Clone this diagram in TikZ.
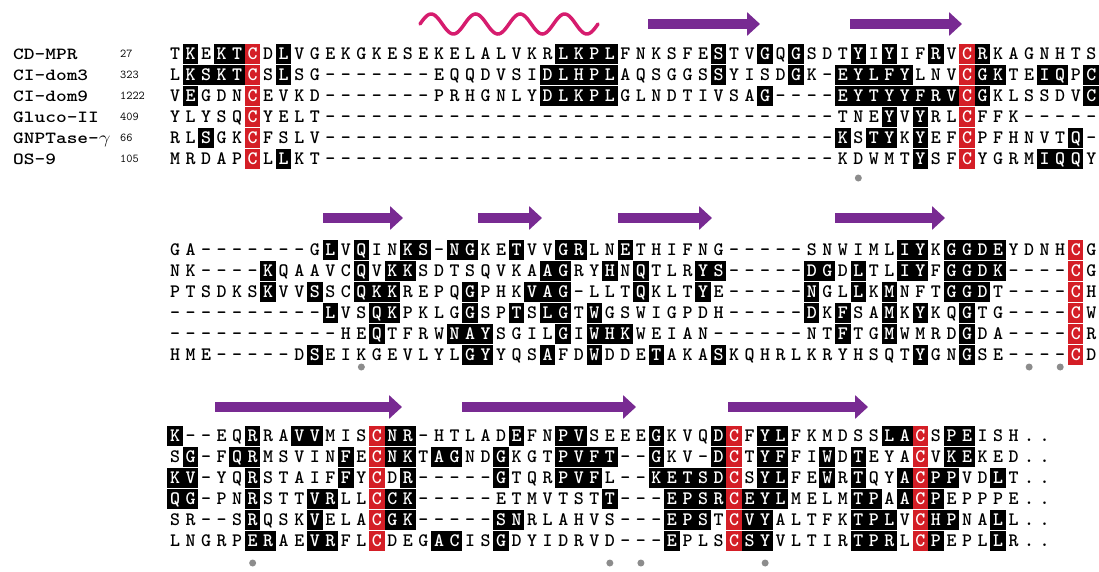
\documentclass[tikz,border=0pt]{standalone}
\usepackage{xstring}
\usetikzlibrary{arrows.meta}
\definecolor{MSAred}{RGB}{212,30,38}
\definecolor{MSApurple}{RGB}{120,42,146}
\definecolor{MSAhelix}{RGB}{214,28,110}
\newcommand{\seqfont}{\ttfamily\bfseries\fontsize{19}{19}\selectfont}
\newcommand{\namefont}{\ttfamily\bfseries\fontsize{17}{17}\selectfont}
\newcommand{\numfont}{\ttfamily\fontsize{12}{12}\selectfont}
\newcommand{\cellfill}{white}
\newcommand{\celltext}{black}
\tikzset{
  msa/res/.style={inner sep=0pt, font=\seqfont, text height=11pt, text depth=0pt,
    minimum width=15.6pt, minimum height=20.5pt, fill=\cellfill, text=\celltext},
  msa/name/.style={anchor=west, inner sep=0pt, font=\namefont, text height=10pt, text depth=0pt},
  msa/num/.style={anchor=west, inner sep=0pt, font=\numfont, text height=7pt, text depth=0pt},
  msa/strand/.style={draw=MSApurple, line width=10pt, -{Triangle[length=13pt,width=23pt]}},
  msa/helix/.style={draw=MSAhelix, line width=3.5pt, line cap=round},
  msa/dot/.style={circle, fill=black!45, inner sep=0pt, minimum size=7pt}
}
% x position of alignment column
\newcommand{\colx}[1]{175+(#1-1)*15.53}
% block, row, y, residues, identical columns, cysteine columns
\newcommand{\alnrow}[6]{%
  \StrLen{#4}[\seqlen]%
  \foreach \c in {1,...,\seqlen}{%
    \StrChar{#4}{\c}[\ch]%
    \IfSubStr{,#6,}{,\c,}{\def\cellfill{MSAred}\def\celltext{white}}%
      {\IfSubStr{,#5,}{,\c,}{\def\cellfill{black}\def\celltext{white}}%
        {\def\cellfill{white}\def\celltext{black}}}%
    \node[msa/res] (b#1r#2c\c) at ({\colx{\c}},#3) {\ch};}}
\newcommand{\strand}[3]{\draw[msa/strand] (#1,#3) -- (#2,#3);}
\newcommand{\seqname}[1]{\scalebox{1.2}[1]{#1}}

\begin{document}
\begin{tikzpicture}[x=1pt,y=-1pt]
  \path[use as bounding box, fill=white] (0,0) rectangle (1099,571);

  % block 1
  \node[msa/name] (nCD) at (13,54) {\seqname{CD-MPR}};
  \node[msa/name] (nCI3) at (13,75) {\seqname{CI-dom3}};
  \node[msa/name] (nCI9) at (13,96) {\seqname{CI-dom9}};
  \node[msa/name] (nGlu) at (13,117) {\seqname{Gluco-II}};
  \node[msa/name] (nGNP) at (13,138) {\seqname{GNPTase-$\gamma$}};
  \node[msa/name] (nOS) at (13,159) {\seqname{OS-9}};
  \node[msa/num] (sCD) at (120,54) {27};
  \node[msa/num] (sCI3) at (120,75) {323};
  \node[msa/num] (sCI9) at (120,96) {1222};
  \node[msa/num] (sGlu) at (120,117) {409};
  \node[msa/num] (sGNP) at (120,138) {66};
  \node[msa/num] (sOS) at (120,159) {105};

  \draw[msa/helix] plot[domain=0:178, samples=120, smooth] ({420+\x},{24-10*sin(8.09*\x)});
  \strand{648}{760}{24}
  \strand{850}{962}{24}

  \alnrow{1}{1}{54}{TKEKTCDLVGEKGKESEKELALVKRLKPLFNKSFESTVGQGSDTYIYIFRVCRKAGNHTS}{2,4,5,8,26,27,28,29,36,39,41,45,47,50,53}{6,52}
  \alnrow{1}{2}{75}{LKSKTCSLSG-------EQQDVSIDLHPLAQSGGSSYISDGK-EYLFYLNVCGKTEIQPC}{2,3,4,5,8,25,26,27,28,29,36,41,44,45,46,47,48,53,54,57,58,60}{6,52}
  \alnrow{1}{3}{96}{VEGDNCEVKD-------PRHGNLYDLKPLGLNDTIVSAG----EYTYYFRVCGKLSSDVC}{2,25,26,27,28,29,39,44,45,46,47,48,49,50,51,53,60}{6,52}
  \alnrow{1}{4}{117}{YLYSQCYELT---------------------------------TNEYVYRLCFFK-----}{47,49}{6,52}
  \alnrow{1}{5}{138}{RLSGKCFSLV---------------------------------KSTYKYEFCPFHNVTQ-}{3,44,46,47,49,59}{6,52}
  \alnrow{1}{6}{159}{MRDAPCLLKT---------------------------------KDWMTYSFCYGRMIQQY}{8,49,57,58,59}{6,52}
  \node[msa/dot] (d1a) at ({\colx{45}},178) {};

  % block 2
  \strand{323}{403}{218}
  \strand{478}{542}{218}
  \strand{618}{712}{218}
  \strand{835}{945}{218}

  \alnrow{2}{1}{250}{GA-------GLVQINKS-NGKETVVGRLNETHIFNG-----SNWIMLIYKGGDEYDNHCG}{11,13,16,17,19,20,23,26,27,30,48,49,51,52,53,54}{59}
  \alnrow{2}{2}{271}{NK----KQAAVCQVKKSDTSQVKAAGRYHNQTLRYS-----DGDLTLIYFGGDK----CG}{7,13,15,16,25,26,29,31,35,36,42,43,45,48,49,51,52,53,54}{59}
  \alnrow{2}{3}{292}{PTSDKSKVVSSCQKKREPQGPHKVAG-LLTQKLTYE-----NGLLKMNFTGGDT----CH}{7,10,13,14,15,20,24,25,26,31,35,42,45,47,51,52,53}{59}
  \alnrow{2}{4}{313}{----------LVSQKPKLGGSPTSLGTWGSWIGPDH-----DKFSAMKYKQGTG----CW}{11,14,15,20,23,25,26,28,42,44,47,49,52}{59}
  \alnrow{2}{5}{334}{-----------HEQTFRWNAYSGILGIWHKWEIAN------NTFTGMWMRDGDA----CR}{14,19,20,21,26,28,29,30,44,47,52}{59}
  \alnrow{2}{6}{355}{HME-----DSEIKGEVLYLGYYQSAFDWDDETAKASKQHRLKRYHSQTYGNGSE----CD}{10,20,21,25,28,32,36,49,52}{59}
  \node[msa/dot] (d2a) at ({\colx{13}},367) {};
  \node[msa/dot] (d2b) at ({\colx{56}},367) {};
  \node[msa/dot] (d2c) at ({\colx{58}},367) {};

  % block 3
  \strand{215}{402}{407}
  \strand{462}{636}{407}
  \strand{728}{868}{407}

  \alnrow{3}{1}{436}{K--EQRRAVVMISCNR-HTLADEFNPVSEEEGKVQDCFYLFKMDSSLACSPEISH..}{1,6,9,10,15,16,23,26,27,32,36,39,40,47,48,51,52}{14,37,49}
  \alnrow{3}{2}{457}{SG-FQRMSVINFECNKTAGNDGKGTPVFT--GKV-DCTYFFIWDTEYACVKEKED..}{2,5,6,12,15,16,18,19,22,26,27,28,29,32,36,39,40,43,45,51,52}{14,37,49}
  \alnrow{3}{3}{478}{KV-YQRSTAIFFYCDR-----GTQRPVFL--KETSDCSYLFEWRTQYACPPVDLT..}{1,2,6,12,16,22,26,27,28,32,33,34,35,36,39,40,43,45,48,50,51,54}{14,37,49}
  \alnrow{3}{4}{499}{QG-PNRSTTVRLLCCK-----ETMVTSTT---EPSRCEYLMELMTPAACPEPPPE..}{1,2,6,10,11,15,16,29,33,34,35,36,38,39,40,45,46,48,50}{14,37,49}
  \alnrow{3}{5}{520}{SR--SRQSKVELACGK-----SNRLAHVS---EPSTCVYALTFKTPLVCHPNALL..}{6,10,15,16,22,23,33,34,35,38,39,45,46,47,50,51,54}{14,37,49}
  \alnrow{3}{6}{541}{LNGRPERAEVRFLCDEGACISGDYIDRVD---EPLSCSYVLTIRTPRLCPEPLLR..}{6,7,10,11,18,19,22,33,38,39,45,46,47,50,54}{14,37,49}
  \node[msa/dot] (d3a) at ({\colx{6}},563) {};
  \node[msa/dot] (d3b) at ({\colx{29}},563) {};
  \node[msa/dot] (d3c) at ({\colx{31}},563) {};
  \node[msa/dot] (d3d) at ({\colx{39}},563) {};
\end{tikzpicture}
\end{document}
